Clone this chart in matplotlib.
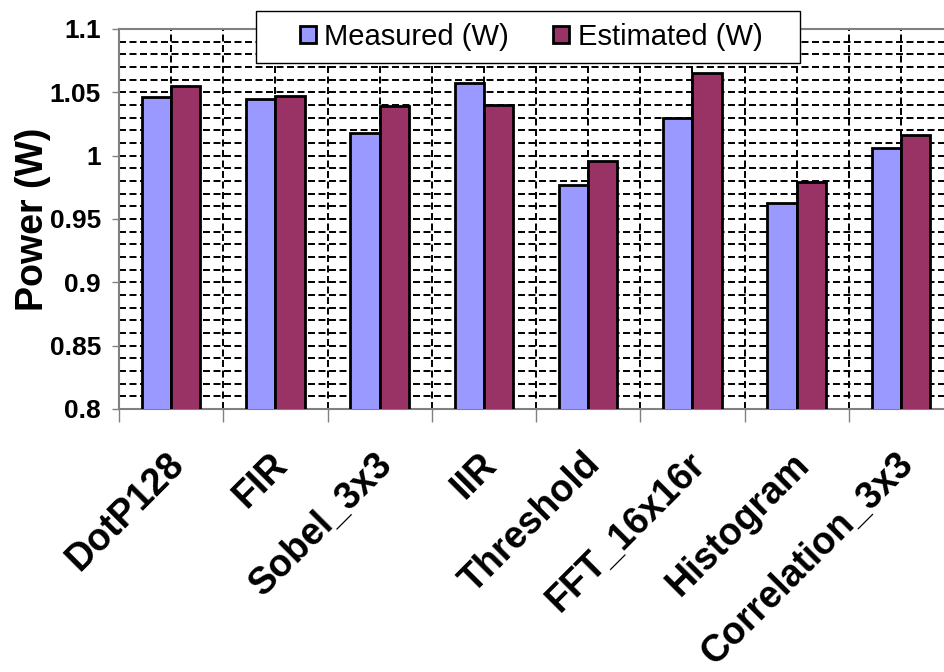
import numpy as np
import matplotlib
matplotlib.use('Agg')
import matplotlib.pyplot as plt
from matplotlib.patches import Rectangle
from matplotlib.transforms import ScaledTranslation

categories = ['DotP128', 'FIR', 'Sobel_3x3', 'IIR', 'Threshold',
              'FFT_16x16r', 'Histogram', 'Correlation_3x3']
measured = [1.046, 1.045, 1.018, 1.057, 0.977, 1.030, 0.963, 1.006]
estimated = [1.055, 1.047, 1.039, 1.040, 0.996, 1.065, 0.979, 1.016]
series_names = ['Measured (W)', 'Estimated (W)']
y_ticks = [0.8, 0.85, 0.9, 0.95, 1.0, 1.05, 1.1]
y_tick_labels = ['0.8', '0.85', '0.9', '0.95', '1', '1.05', '1.1']

plt.rcParams['font.family'] = ['Liberation Sans', 'DejaVu Sans']

fig = plt.figure(figsize=(9.44, 6.72), dpi=100)
ax = fig.add_axes([119 / 944, 1 - 409 / 672, 834 / 944, 380 / 672])

x = np.arange(len(categories))
w = 0.28
b1 = ax.bar(x - w / 2, measured, w, color='#9999FF', edgecolor='black',
            linewidth=2, label=series_names[0], zorder=3)
b2 = ax.bar(x + w / 2, estimated, w, color='#993366', edgecolor='black',
            linewidth=2, label=series_names[1], zorder=3)

ax.set_xlim(-0.5, len(categories) - 0.5)
ax.set_ylim(0.8, 1.1)

# ticks at category boundaries, grid also through category centres
ax.set_xticks(np.arange(len(categories) + 1) - 0.5)
ax.set_xticks(x, minor=True)
ax.set_xticklabels([])
ax.tick_params(axis='x', which='major', length=9.5, width=1, color='#808080')
ax.tick_params(axis='x', which='minor', length=0)

ax.set_yticks(y_ticks)
ax.set_yticklabels(y_tick_labels, fontsize=19, fontweight='bold')
ax.set_yticks(np.arange(0.8, 1.1001, 0.01), minor=True)
ax.tick_params(axis='y', which='major', length=5, width=1, color='#808080', pad=8)
ax.tick_params(axis='y', which='minor', length=0)

ax.set_axisbelow(True)
grid_kw = dict(color='black', linewidth=1.4, linestyle=(0, (3.6, 1.8)))
ax.grid(True, which='both', axis='both', **grid_kw)

for s in ax.spines.values():
    s.set_color('#808080')
    s.set_linewidth(1.5)

ax.set_ylabel('Power (W)', fontsize=27, fontweight='bold')
ax.yaxis.set_label_coords(-0.082, 0.5)

# rotated category labels
off = ScaledTranslation(7 / 100, -50 / 100, fig.dpi_scale_trans)
for xi, name in zip(x, categories):
    ax.text(xi, 0, name, transform=ax.get_xaxis_transform() + off,
            rotation=45, rotation_mode='anchor', ha='right', va='center',
            fontsize=27, fontweight='bold')

# legend box (wider than the entries, as in the original)
frame = Rectangle((256 / 944, 1 - 63 / 672), 544 / 944, 52 / 672,
                  transform=fig.transFigure, facecolor='white',
                  edgecolor='black', linewidth=1.0, zorder=4)
fig.add_artist(frame)
leg = fig.legend(handles=[b1, b2], labels=series_names, loc='center',
                 bbox_to_anchor=(531 / 944, 1 - 37 / 672),
                 ncol=2, fontsize=21, frameon=False,
                 handlelength=0.55, handleheight=0.55, handletextpad=0.3,
                 columnspacing=1.5, borderpad=0.3, borderaxespad=0)
leg.set_zorder(5)

fig.savefig('out.png', dpi=100)
